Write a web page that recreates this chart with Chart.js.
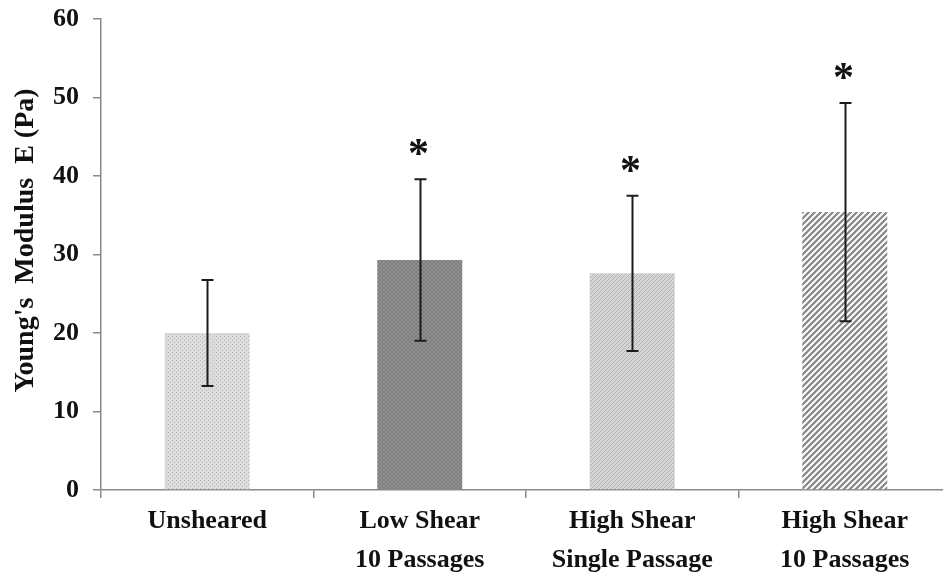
<!DOCTYPE html>
<html>
<head>
<meta charset="utf-8">
<script src="https://cdn.jsdelivr.net/npm/chart.js@4"></script>
<style>
  html, body { margin: 0; padding: 0; background: #fff; overflow: hidden; }
  #wrap { width: 951px; height: 579px; }
</style>
</head>
<body>
<div id="wrap"><canvas id="chart" width="951" height="579"></canvas></div>
<script>
// Shear conditions and measured stiffness
const categories = [
  'Unsheared',
  ['Low Shear', '10 Passages'],
  ['High Shear', 'Single Passage'],
  ['High Shear', '10 Passages']
];
const meanModulus = [20.0, 29.3, 27.6, 35.4];   // Pa
const errModulus  = [6.75, 10.3, 9.9, 13.9];    // Pa, +/- one SD
const significant = [false, true, true, true];  // marked with *
const yTicks = [0, 10, 20, 30, 40, 50, 60];

const SERIF = '"Liberation Serif", "Times New Roman", serif';

// Texture fills for each bar
function makePattern(size, draw) {
  const c = document.createElement('canvas');
  c.width = size; c.height = size;
  const g = c.getContext('2d');
  draw(g, size);
  return g.createPattern(c, 'repeat');
}
const dotted = makePattern(4, (g, s) => {
  g.fillStyle = '#dcdcdc'; g.fillRect(0, 0, s, s);
  g.fillStyle = '#b8b8b8'; g.fillRect(0, 0, 1, 1); g.fillRect(2, 2, 1, 1);
});
const crossDark = makePattern(4, (g, s) => {
  g.fillStyle = '#929292'; g.fillRect(0, 0, s, s);
  g.fillStyle = '#7c7c7c';
  for (let i = 0; i < s; i++) { g.fillRect(i, i, 1, 1); g.fillRect(s - 1 - i, i, 1, 1); }
});
const fineDiag = makePattern(4, (g, s) => {
  g.fillStyle = '#d6d6d6'; g.fillRect(0, 0, s, s);
  g.fillStyle = '#b2b2b2';
  for (let i = 0; i < s; i++) g.fillRect(s - 1 - i, i, 1, 1);
});
const wideDiag = makePattern(6, (g, s) => {
  g.fillStyle = '#f4f4f4'; g.fillRect(0, 0, s, s);
  g.fillStyle = '#8c8c8c';
  for (let i = 0; i < s; i++) { g.fillRect((s - 1 - i + s) % s, i, 1, 1); g.fillRect((s - i) % s, i, 1, 1); g.fillRect((s + 1 - i) % s, i, 1, 1); }
});
const barFills = [dotted, crossDark, fineDiag, wideDiag];

// Error bars and significance stars drawn on top of the bars
const errorBarPlugin = {
  id: 'errorBars',
  afterDatasetsDraw(chart) {
    const ctx = chart.ctx;
    const meta = chart.getDatasetMeta(0);
    const y = chart.scales.y;
    ctx.save();
    ctx.strokeStyle = '#1c1c1c';
    ctx.lineWidth = 2;
    meta.data.forEach((bar, i) => {
      const x = Math.round(bar.x) + 0.5;
      const hi = y.getPixelForValue(meanModulus[i] + errModulus[i]);
      const lo = y.getPixelForValue(meanModulus[i] - errModulus[i]);
      ctx.beginPath();
      ctx.moveTo(x, hi); ctx.lineTo(x, lo);
      ctx.moveTo(x - 6, hi); ctx.lineTo(x + 6, hi);
      ctx.moveTo(x - 6, lo); ctx.lineTo(x + 6, lo);
      ctx.stroke();
      if (significant[i]) {
        ctx.fillStyle = '#111';
        ctx.font = 'bold 42px ' + SERIF;
        ctx.textAlign = 'center';
        ctx.textBaseline = 'alphabetic';
        ctx.fillText('*', x - 2, hi - 12);
      }
    });
    ctx.restore();
  }
};

new Chart(document.getElementById('chart'), {
  type: 'bar',
  data: {
    labels: categories,
    datasets: [{
      data: meanModulus,
      backgroundColor: barFills,
      borderWidth: 0,
      barPercentage: 0.4,
      categoryPercentage: 1.0
    }]
  },
  options: {
    responsive: false,
    animation: false,
    events: [],
    layout: { padding: { top: 19, left: 9, right: 0, bottom: 0 } },
    plugins: { legend: { display: false }, tooltip: { enabled: false } },
    scales: {
      x: {
        afterFit(scale) { scale.height = 89; },
        grid: { drawOnChartArea: false, color: '#8a8a8a', lineWidth: 1.5, tickLength: 8, offset: true },
        border: { color: '#8a8a8a', width: 1.5 },
        ticks: {
          color: '#111',
          padding: 4,
          maxRotation: 0,
          autoSkip: false,
          font: { family: SERIF, size: 26, weight: 'bold', lineHeight: 1.5 }
        }
      },
      y: {
        min: 0,
        max: 60,
        afterBuildTicks(scale) { scale.ticks = yTicks.map(v => ({ value: v })); },
        afterFit(scale) { scale.width = 92; },
        grid: { drawOnChartArea: false, color: '#8a8a8a', lineWidth: 1.5, tickLength: 8 },
        border: { color: '#8a8a8a', width: 1.5 },
        ticks: {
          color: '#111',
          padding: 14,
          font: { family: SERIF, size: 26, weight: 'bold', lineHeight: 0.3 }
        },
        title: {
          display: true,
          text: "\u00A0\u00A0\u00A0\u00A0Young's  Modulus  E (Pa)",
          color: '#111',
          padding: { top: 0, bottom: 0 },
          font: { family: SERIF, size: 28, weight: 'bold' }
        }
      }
    }
  },
  plugins: [errorBarPlugin]
});
</script>
</body>
</html>
